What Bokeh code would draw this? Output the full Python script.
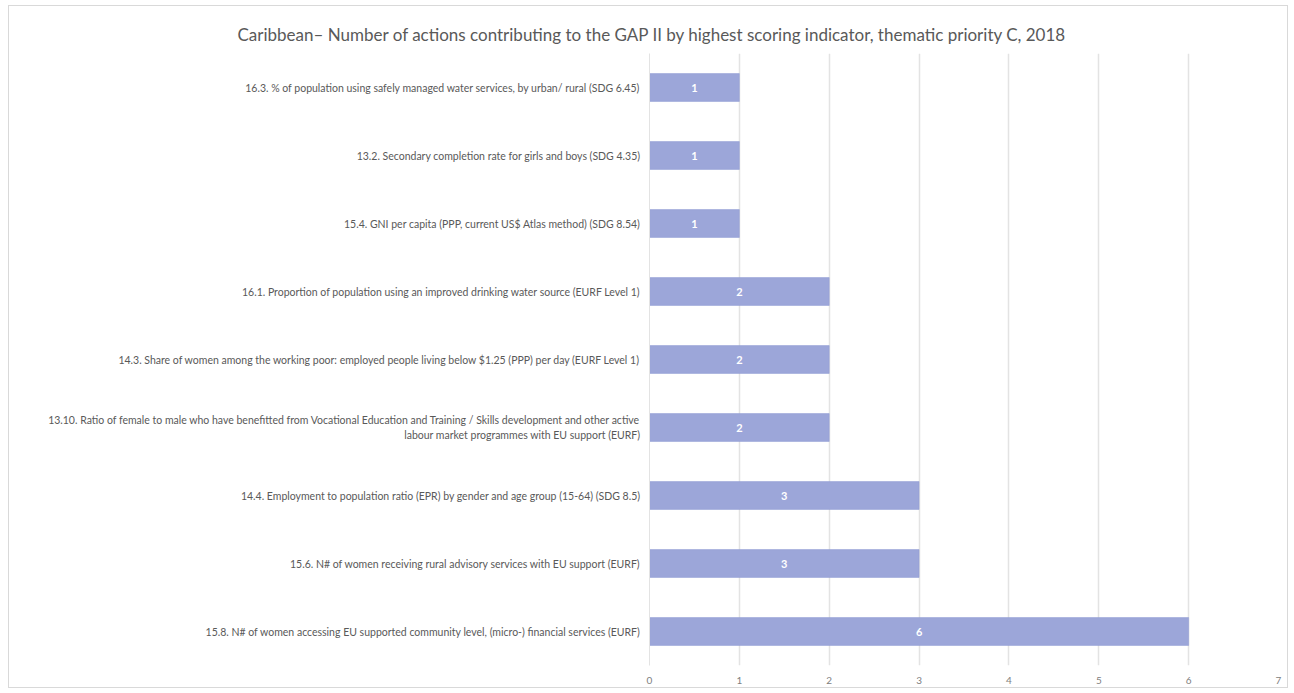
from bokeh.plotting import figure
from bokeh.models import ColumnDataSource, FactorRange, FixedTicker
from bokeh.core.properties import value
from bokeh.embed import file_html
from bokeh.resources import INLINE

# Data (top to bottom as in the chart)
indicators = [
    "16.3. % of population using safely managed water services, by urban/ rural (SDG 6.45)",
    "13.2. Secondary completion rate for girls and boys (SDG 4.35)",
    "15.4. GNI per capita (PPP, current US$ Atlas method) (SDG 8.54)",
    "16.1. Proportion of population using an improved drinking water source (EURF Level 1)",
    "14.3. Share of women among the working poor: employed people living below $1.25 (PPP) per day (EURF Level 1)",
    "13.10. Ratio of female to male who have benefitted from Vocational Education and Training / Skills development and other active\nlabour market programmes with EU support (EURF)",
    "14.4. Employment to population ratio (EPR) by gender and age group (15-64) (SDG 8.5)",
    "15.6. N# of women receiving rural advisory services with EU support (EURF)",
    "15.8. N# of women accessing EU supported community level, (micro-) financial services (EURF)",
]
actions = [1, 1, 1, 2, 2, 2, 3, 3, 6]
x_ticks = [0, 1, 2, 3, 4, 5, 6, 7]
title_text = "Caribbean\u2013 Number of actions contributing to the GAP II by highest scoring indicator, thematic priority C, 2018"

src = ColumnDataSource(dict(
    cat=indicators,
    val=actions,
    mid=[v / 2 for v in actions],
    lab=[str(v) for v in actions],
))

p = figure(
    width=1280, height=683,
    y_range=FactorRange(factors=list(reversed(indicators))),
    x_range=(0, 7),
    output_backend="svg", toolbar_location=None,
    title=title_text,
    min_border_left=640, min_border_right=11, min_border_top=47, min_border_bottom=24,
    styles={"border": "1px solid #d9d9d9", "margin": "5px 0px 0px 8px"},
)

p.title.align = "left"
p.title.offset = -412
p.title.text_font = "Lato"
p.title.text_font_size = "17px"
p.title.text_font_style = "normal"
p.title.text_color = "#595959"
p.title.standoff = 17

p.hbar(y="cat", right="val", left=0, height=0.41, source=src,
       fill_color="#9ca6d9", line_color="#8f9ad3", line_width=0.5)
p.text(x="mid", y="cat", text="lab", source=src, text_align="center", text_baseline="middle",
       text_color="white", text_font=value("Lato"), text_font_size="11px", text_font_style="bold")

p.outline_line_color = None
p.xgrid.grid_line_color = "#e3e3e3"
p.xgrid.grid_line_width = 1.5
p.ygrid.grid_line_color = None
p.xaxis.ticker = FixedTicker(ticks=x_ticks)
p.xaxis.axis_line_color = None
p.xaxis.major_tick_line_color = None
p.xaxis.minor_tick_line_color = None
p.xaxis.major_tick_out = 0
p.xaxis.major_label_standoff = 11
p.xaxis.major_label_text_font = "Lato"
p.xaxis.major_label_text_font_size = "10px"
p.xaxis.major_label_text_color = "#808080"

p.yaxis.axis_line_color = "#e3e3e3"
p.yaxis.major_tick_line_color = None
p.yaxis.minor_tick_line_color = None
p.yaxis.major_tick_out = 0
p.yaxis.major_label_standoff = 9
p.yaxis.major_label_text_font = "Lato"
p.yaxis.major_label_text_font_size = "10.5px"
p.yaxis.major_label_text_color = "#595959"

open("out.html", "w").write(file_html(p, INLINE))
